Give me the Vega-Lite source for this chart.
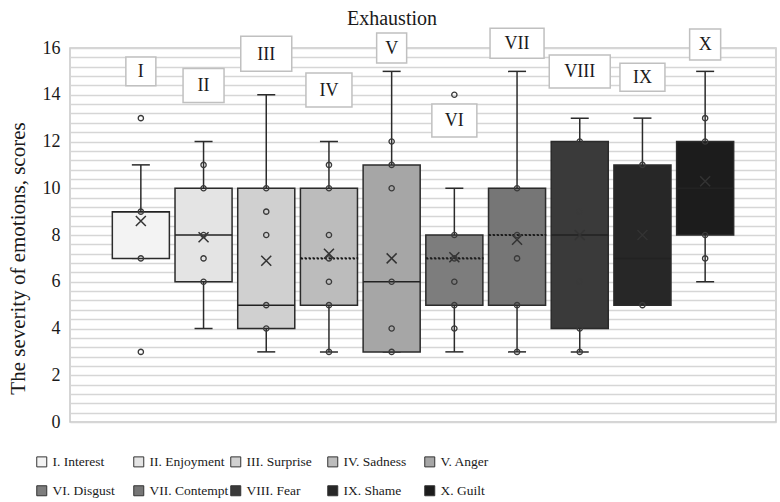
{
  "$schema": "https://vega.github.io/schema/vega-lite/v6.json",
  "width": 706,
  "height": 374,
  "autosize": {"type": "none"},
  "padding": {"left": 70, "top": 48, "right": 4, "bottom": 80},
  "background": "white",
  "config": {"view": {"stroke": "#c8c8c8", "strokeWidth": 1.5}, "font": "Liberation Serif"},
  "title": {"text": "Exhaustion", "font": "Liberation Serif", "fontSize": 20, "fontWeight": "normal", "color": "#1a1a1a", "anchor": "middle", "frame": "group", "dx": -31, "offset": -4},
  "datasets": {
    "boxes": [
      {"num": "I", "emotion": "I. Interest", "lo": 7, "q1": 7, "median": 9, "q3": 9, "hi": 11, "mean": 8.6, "label_y": 15.0},
      {"num": "II", "emotion": "II. Enjoyment", "lo": 4, "q1": 6, "median": 8, "q3": 10, "hi": 12, "mean": 7.9, "label_y": 14.4},
      {"num": "III", "emotion": "III. Surprise", "lo": 3, "q1": 4, "median": 5, "q3": 10, "hi": 14, "mean": 6.9, "label_y": 15.75},
      {"num": "IV", "emotion": "IV. Sadness", "lo": 3, "q1": 5, "median": 7, "q3": 10, "hi": 12, "mean": 7.2, "label_y": 14.2},
      {"num": "V", "emotion": "V. Anger", "lo": 3, "q1": 3, "median": 6, "q3": 11, "hi": 15, "mean": 7.0, "label_y": 16.0},
      {"num": "VI", "emotion": "VI. Disgust", "lo": 3, "q1": 5, "median": 7, "q3": 8, "hi": 10, "mean": 7.05, "label_y": 12.9},
      {"num": "VII", "emotion": "VII. Contempt", "lo": 3, "q1": 5, "median": 8, "q3": 10, "hi": 15, "mean": 7.8, "label_y": 16.2},
      {"num": "VIII", "emotion": "VIII. Fear", "lo": 3, "q1": 4, "median": 8, "q3": 12, "hi": 13, "mean": 8.0, "label_y": 15.0},
      {"num": "IX", "emotion": "IX. Shame", "lo": 5, "q1": 5, "median": 7, "q3": 11, "hi": 13, "mean": 8.0, "label_y": 14.75},
      {"num": "X", "emotion": "X. Guilt", "lo": 6, "q1": 8, "median": 10, "q3": 12, "hi": 15, "mean": 10.3, "label_y": 16.15}
    ],
    "points": [
      {"num": "I", "value": 13}, {"num": "I", "value": 9}, {"num": "I", "value": 7}, {"num": "I", "value": 3},
      {"num": "II", "value": 11}, {"num": "II", "value": 10}, {"num": "II", "value": 8}, {"num": "II", "value": 7}, {"num": "II", "value": 6},
      {"num": "III", "value": 10}, {"num": "III", "value": 9}, {"num": "III", "value": 8}, {"num": "III", "value": 5}, {"num": "III", "value": 4},
      {"num": "IV", "value": 11}, {"num": "IV", "value": 10}, {"num": "IV", "value": 8}, {"num": "IV", "value": 7}, {"num": "IV", "value": 6}, {"num": "IV", "value": 5}, {"num": "IV", "value": 3},
      {"num": "V", "value": 12}, {"num": "V", "value": 11}, {"num": "V", "value": 10}, {"num": "V", "value": 6}, {"num": "V", "value": 4}, {"num": "V", "value": 3},
      {"num": "VI", "value": 14}, {"num": "VI", "value": 8}, {"num": "VI", "value": 7}, {"num": "VI", "value": 6}, {"num": "VI", "value": 5}, {"num": "VI", "value": 4},
      {"num": "VII", "value": 10}, {"num": "VII", "value": 8}, {"num": "VII", "value": 7}, {"num": "VII", "value": 5}, {"num": "VII", "value": 3},
      {"num": "VIII", "value": 12}, {"num": "VIII", "value": 9}, {"num": "VIII", "value": 6}, {"num": "VIII", "value": 4}, {"num": "VIII", "value": 3},
      {"num": "IX", "value": 11}, {"num": "IX", "value": 5},
      {"num": "X", "value": 13}, {"num": "X", "value": 12}, {"num": "X", "value": 8}, {"num": "X", "value": 7}
    ]
  },
  "encoding": {
    "x": {
      "field": "num",
      "type": "nominal",
      "scale": {"domain": ["I", "II", "III", "IV", "V", "VI", "VII", "VIII", "IX", "X"], "paddingInner": 0.09, "paddingOuter": 0.675},
      "axis": null
    }
  },
  "layer": [
    {
      "data": {"name": "boxes"},
      "mark": {"type": "rule", "stroke": "#2b2b2b", "strokeWidth": 1.5},
      "encoding": {
        "y": {
          "field": "lo",
          "type": "quantitative",
          "scale": {"domain": [0, 16], "nice": false},
          "axis": {
            "title": "The severity of emotions, scores",
            "values": [0, 0.4, 0.8, 1.2, 1.6, 2, 2.4, 2.8, 3.2, 3.6, 4, 4.4, 4.8, 5.2, 5.6, 6, 6.4, 6.8, 7.2, 7.6, 8, 8.4, 8.8, 9.2, 9.6, 10, 10.4, 10.8, 11.2, 11.6, 12, 12.4, 12.8, 13.2, 13.6, 14, 14.4, 14.8, 15.2, 15.6, 16],
            "tickCount": 100,
            "tickMinStep": 0.1,
            "labelExpr": "datum.value % 2 === 0 ? '' + datum.value : ''",
            "labelOverlap": false,
            "labelBound": false,
            "ticks": false,
            "domain": false,
            "grid": true,
            "gridColor": "#d6d6d6",
            "gridWidth": 1.5,
            "labelFont": "Liberation Serif",
            "labelFontSize": 18,
            "labelColor": "#1a1a1a",
            "labelPadding": 10,
            "titleFont": "Liberation Serif",
            "titleFontSize": 21,
            "titleFontWeight": "normal",
            "titleColor": "#1a1a1a",
            "titlePadding": 14,
            "titleY": 210
          }
        },
        "y2": {"field": "hi"}
      }
    },
    {
      "data": {"name": "boxes"},
      "mark": {"type": "tick", "color": "#2b2b2b", "size": 18, "thickness": 1.5, "opacity": 1},
      "encoding": {"y": {"field": "hi", "type": "quantitative"}}
    },
    {
      "data": {"name": "boxes"},
      "mark": {"type": "tick", "color": "#2b2b2b", "size": 18, "thickness": 1.5, "opacity": 1},
      "encoding": {"y": {"field": "lo", "type": "quantitative"}}
    },
    {
      "data": {"name": "boxes"},
      "mark": {"type": "bar", "stroke": "#2b2b2b", "strokeWidth": 1.5, "opacity": 1},
      "encoding": {
        "y": {"field": "q1", "type": "quantitative"},
        "y2": {"field": "q3"},
        "fill": {
          "field": "emotion",
          "type": "nominal",
          "scale": {
            "domain": ["I. Interest", "II. Enjoyment", "III. Surprise", "IV. Sadness", "V. Anger", "VI. Disgust", "VII. Contempt", "VIII. Fear", "IX. Shame", "X. Guilt"],
            "range": ["#f3f3f3", "#e4e4e4", "#d0d0d0", "#bcbcbc", "#a6a6a6", "#7d7d7d", "#767676", "#3a3a3a", "#272727", "#1c1c1c"]
          },
          "legend": {
            "orient": "none",
            "legendX": -35,
            "legendY": 407,
            "columns": 5,
            "direction": "horizontal",
            "title": null,
            "symbolType": "square",
            "symbolSize": 100,
            "symbolStrokeColor": "#333333",
            "symbolStrokeWidth": 1,
            "labelFont": "Liberation Serif",
            "labelFontSize": 13.5,
            "labelColor": "#1a1a1a",
            "labelOffset": 4,
            "labelLimit": 200,
            "gridAlign": "all",
            "columnPadding": -8,
            "rowPadding": 14,
            "padding": 0
          }
        }
      }
    },
    {
      "data": {"name": "boxes"},
      "transform": [{"filter": {"field": "num", "oneOf": ["I", "II", "III", "V", "VIII", "IX", "X"]}}],
      "mark": {"type": "tick", "color": "#222222", "size": 57, "thickness": 1.5, "opacity": 1},
      "encoding": {"y": {"field": "median", "type": "quantitative"}}
    },
    {
      "data": {"name": "boxes"},
      "transform": [{"filter": {"field": "num", "oneOf": ["IV", "VI", "VII"]}}],
      "mark": {"type": "tick", "filled": false, "stroke": "#1a1a1a", "strokeWidth": 1.5, "strokeDash": [2, 2], "size": 57, "thickness": 0.6, "opacity": 1},
      "encoding": {"y": {"field": "median", "type": "quantitative"}}
    },
    {
      "data": {"name": "boxes"},
      "mark": {"type": "point", "shape": "M-1,-1L1,1M-1,1L1,-1", "size": 100, "stroke": "#333333", "strokeWidth": 1.5, "filled": false, "opacity": 1},
      "encoding": {"y": {"field": "mean", "type": "quantitative"}}
    },
    {
      "data": {"name": "points"},
      "mark": {"type": "point", "shape": "circle", "size": 28, "stroke": "#3a3a3a", "strokeWidth": 1.3, "filled": false, "opacity": 1},
      "encoding": {"y": {"field": "value", "type": "quantitative"}}
    },
    {
      "data": {"name": "boxes"},
      "mark": {"type": "point", "filled": true, "fill": "white", "stroke": "#c0c0c0", "strokeWidth": 1.5, "size": 3600, "opacity": 1},
      "encoding": {
        "y": {"field": "label_y", "type": "quantitative"},
        "shape": {
          "field": "num",
          "type": "nominal",
          "scale": {
            "domain": ["I", "II", "III", "IV", "V", "VI", "VII", "VIII", "IX", "X"],
            "range": [
              "M-0.5,-0.483H0.5V0.483H-0.5Z",
              "M-0.683,-0.567H0.683V0.567H-0.683Z",
              "M-0.85,-0.583H0.85V0.583H-0.85Z",
              "M-0.767,-0.567H0.767V0.567H-0.767Z",
              "M-0.5,-0.5H0.5V0.5H-0.5Z",
              "M-0.75,-0.55H0.75V0.55H-0.75Z",
              "M-0.9,-0.5H0.9V0.5H-0.9Z",
              "M-1.017,-0.55H1.017V0.55H-1.017Z",
              "M-0.75,-0.467H0.75V0.467H-0.75Z",
              "M-0.517,-0.517H0.517V0.517H-0.517Z"
            ]
          },
          "legend": null
        }
      }
    },
    {
      "data": {"name": "boxes"},
      "mark": {"type": "text", "font": "Liberation Serif", "fontSize": 18, "color": "#1a1a1a", "baseline": "middle", "align": "center", "dy": 1},
      "encoding": {
        "y": {"field": "label_y", "type": "quantitative"},
        "text": {"field": "num"}
      }
    }
  ]
}
